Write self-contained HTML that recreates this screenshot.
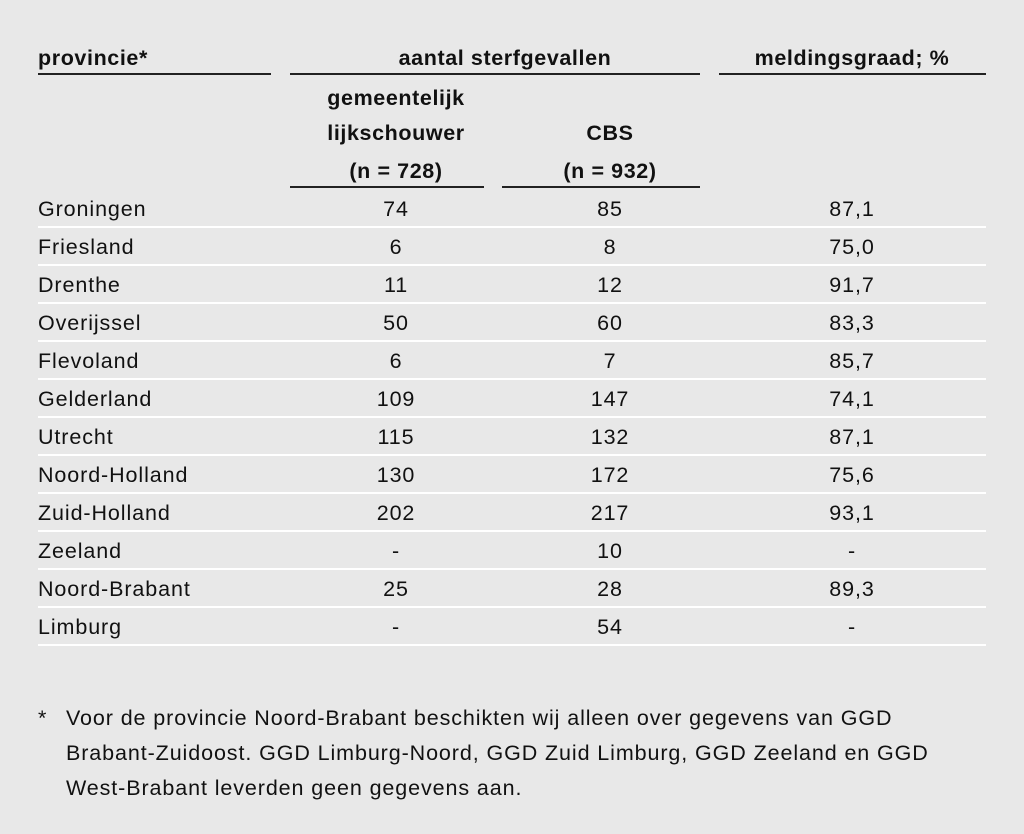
<!DOCTYPE html>
<html><head><meta charset="utf-8"><style>
body{margin:0;width:1024px;height:834px;background:#e8e8e8;font-family:"Liberation Sans",sans-serif;color:#111;position:relative;overflow:hidden}
.t{position:absolute;font-size:21.5px;line-height:24px;white-space:nowrap;letter-spacing:0.9px}
.c{transform:translateX(-50%)}
.b{font-weight:bold;letter-spacing:0.6px}
.l{position:absolute;height:2px;background:#222}
.w{position:absolute;height:2px;background:#fff;left:38px;width:948px}
</style></head><body>
<div class="t b" style="left:38px;top:46px">provincie*</div>
<div class="t b c" style="left:505px;top:46px">aantal sterfgevallen</div>
<div class="t b c" style="left:852px;top:46px">meldingsgraad; %</div>
<div class="l" style="left:38px;top:73px;width:233px"></div>
<div class="l" style="left:290px;top:73px;width:410px"></div>
<div class="l" style="left:719px;top:73px;width:267px"></div>
<div class="t b c" style="left:396px;top:86px">gemeentelijk</div>
<div class="t b c" style="left:396px;top:121px">lijkschouwer</div>
<div class="t b c" style="left:396px;top:159px">(n = 728)</div>
<div class="t b c" style="left:610px;top:121px">CBS</div>
<div class="t b c" style="left:610px;top:159px">(n = 932)</div>
<div class="l" style="left:290px;top:186px;width:194px"></div>
<div class="l" style="left:502px;top:186px;width:198px"></div>
<div id="rows"></div>
<div class="t" style="left:38px;top:706px">*</div>
<div class="t" style="left:66px;top:706px">Voor de provincie Noord-Brabant beschikten wij alleen over gegevens van GGD</div>
<div class="t" style="left:66px;top:741px">Brabant-Zuidoost. GGD Limburg-Noord, GGD Zuid Limburg, GGD Zeeland en GGD</div>
<div class="t" style="left:66px;top:776px">West-Brabant leverden geen gegevens aan.</div>
<script>
var d=[["Groningen","74","85","87,1"],["Friesland","6","8","75,0"],["Drenthe","11","12","91,7"],["Overijssel","50","60","83,3"],["Flevoland","6","7","85,7"],["Gelderland","109","147","74,1"],["Utrecht","115","132","87,1"],["Noord-Holland","130","172","75,6"],["Zuid-Holland","202","217","93,1"],["Zeeland","-","10","-"],["Noord-Brabant","25","28","89,3"],["Limburg","-","54","-"]];
var h="";d.forEach(function(r,i){var y=197+i*38;
h+='<div class="t" style="left:38px;top:'+y+'px">'+r[0]+'</div>';
h+='<div class="t c" style="left:396px;top:'+y+'px">'+r[1]+'</div>';
h+='<div class="t c" style="left:610px;top:'+y+'px">'+r[2]+'</div>';
h+='<div class="t c" style="left:852px;top:'+y+'px">'+r[3]+'</div>';
h+='<div class="w" style="top:'+(226+i*38)+'px"></div>';});
document.getElementById("rows").innerHTML=h;
</script>
</body></html>
